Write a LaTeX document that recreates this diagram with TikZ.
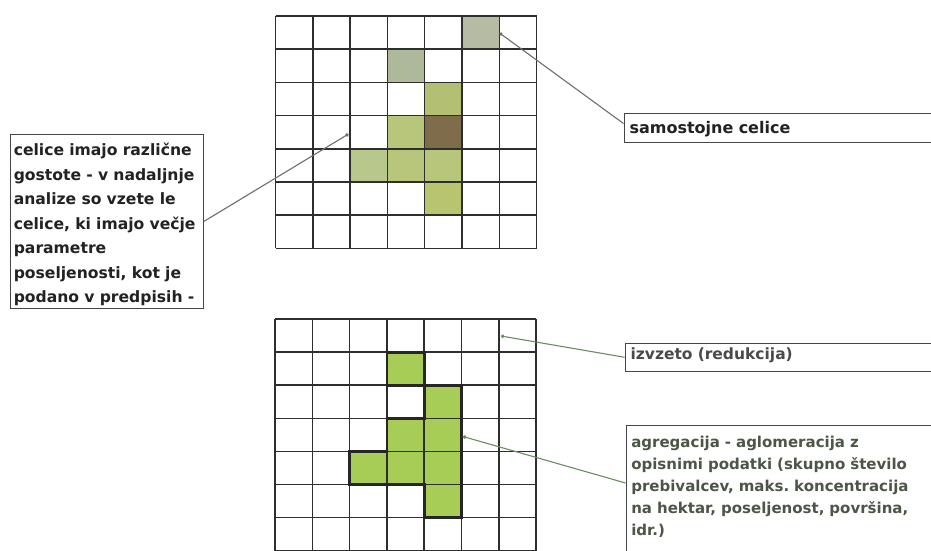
\documentclass[tikz,border=0pt]{standalone}
\usepackage{fontspec}
\setmainfont{DejaVu Sans}
\usetikzlibrary{calc,arrows.meta}
\frenchspacing
\definecolor{gridc}{HTML}{2E2E2E}
\definecolor{boxc}{HTML}{454545}
\definecolor{txtdark}{HTML}{222222}
\definecolor{txtgray}{HTML}{4A4A4A}
\definecolor{txtgreen}{HTML}{4C5646}
\definecolor{conngray}{HTML}{6E6E6E}
\definecolor{conngreen}{HTML}{6C8C62}
\definecolor{cgray}{HTML}{B5BCA3}
\definecolor{cgrayb}{HTML}{AEB99C}
\definecolor{colive}{HTML}{B3BF72}
\definecolor{coliveb}{HTML}{B8C67C}
\definecolor{colivec}{HTML}{B8C88C}
\definecolor{colived}{HTML}{B9C56E}
\definecolor{cbrown}{HTML}{7E6C4A}
\definecolor{cgreen}{HTML}{A7CD56}
\tikzset{
  gridline/.style={draw=gridc, line width=1.5pt},
  outline/.style={draw=black!85, line width=2.8pt, line join=miter},
  labelbox/.style={draw=boxc, line width=1.1pt, anchor=north west, align=left, inner ysep=0pt, fill=white},
  conn/.style={draw=conngray, line width=1.1pt, -{Circle[length=3.5pt]}},
  conngr/.style={draw=conngreen, line width=1.1pt, -{Circle[length=3.5pt,fill=black!70]}},
}
\begin{document}
\begin{tikzpicture}[x=1pt,y=-1pt]
\useasboundingbox (0,0) rectangle (931,551);
\clip (0,0) rectangle (931,551);
\fill[white] (0,0) rectangle (931,551);

% grid coordinates
\foreach \c in {0,...,7} {
  \foreach \r in {0,...,7} {
    \coordinate (t\c-\r) at ({275.5+\c*37.3},{16+\r*33.2});
    \coordinate (b\c-\r) at ({275+\c*37.3},{319+\r*33.1});
  }
}

% top grid fills
\fill[cgray]   (t5-0) rectangle (t6-1);
\fill[cgrayb]  (t3-1) rectangle (t4-2);
\fill[colive]  (t4-2) rectangle (t5-3);
\fill[coliveb] (t3-3) rectangle (t4-4);
\fill[cbrown]  (t4-3) rectangle (t5-4);
\fill[colivec] (t2-4) rectangle (t3-5);
\fill[coliveb] (t3-4) rectangle (t4-5);
\fill[coliveb] (t4-4) rectangle (t5-5);
\fill[colived] (t4-5) rectangle (t5-6);

% bottom grid fills
\fill[cgreen] (b3-1) rectangle (b4-2);
\fill[cgreen] (b4-2) rectangle (b5-6);
\fill[cgreen] (b3-3) rectangle (b4-5);
\fill[cgreen] (b2-4) rectangle (b3-5);

% grid lines
\foreach \i in {0,...,7} {
  \draw[gridline] (t\i-0) -- (t\i-7);
  \draw[gridline] (t0-\i) -- (t7-\i);
  \draw[gridline] (b\i-0) -- (b\i-7);
  \draw[gridline] (b0-\i) -- (b7-\i);
}

% bottom outlines
\draw[outline] (b3-1) rectangle (b4-2);
\draw[outline] (b4-2) -- (b5-2) -- (b5-6) -- (b4-6) -- (b4-5) -- (b2-5) -- (b2-4) -- (b3-4) -- (b3-3) -- (b4-3) -- cycle;

% connector end points on the grids
\coordinate (tl) at (348.5,134);
\coordinate (tr) at (499.5,33);
\coordinate (bi) at (501,336);
\coordinate (ba) at (463,436.5);

% label boxes
\node[labelbox, text=txtdark, font=\fontsize{15.6}{24.5}\selectfont\bfseries, text width=186pt, inner xsep=3.75pt] (lbox) at (9.5,134)
  {\rule{0pt}{21pt}celice imajo različne\\ gostote - v nadaljnje\\ analize so vzete le\\ celice, ki imajo večje\\ parametre\\ poseljenosti, kot je\\ podano v predpisih -\rule[-5.5pt]{0pt}{5.5pt}};

\node[labelbox, text=txtdark, font=\fontsize{16}{20}\selectfont\bfseries, text width=325pt, inner xsep=5.5pt] (sbox) at (623.5,112.7)
  {\rule{0pt}{20.6pt}samostojne celice\rule[-8.4pt]{0pt}{8.4pt}};

\node[labelbox, text=txtgray, font=\fontsize{15.5}{20}\selectfont\bfseries, text width=325pt, inner xsep=5.5pt] (ibox) at (624.5,342.7)
  {\rule{0pt}{16.3pt}izvzeto (redukcija)\rule[-11.7pt]{0pt}{11.7pt}};

\node[labelbox, text=txtgreen, font=\fontsize{15}{22}\selectfont\bfseries, text width=325pt, inner xsep=5.25pt] (abox) at (625.5,425)
  {\rule{0pt}{22.3pt}agregacija - aglomeracija z\\ opisnimi podatki (skupno število\\ prebivalcev, maks. koncentracija\\ na hektar, poseljenost, površina,\\ idr.)\rule[-40pt]{0pt}{40pt}};

% connectors
\draw[conn] (lbox.east) -- (tl);
\draw[conn] ($(sbox.north west)!0.36!(sbox.south west)$) -- (tr);
\draw[conngr] (ibox.west) -- (bi);
\draw[conngr] ($(abox.north west)+(0,58)$) -- (ba);
\end{tikzpicture}
\end{document}
